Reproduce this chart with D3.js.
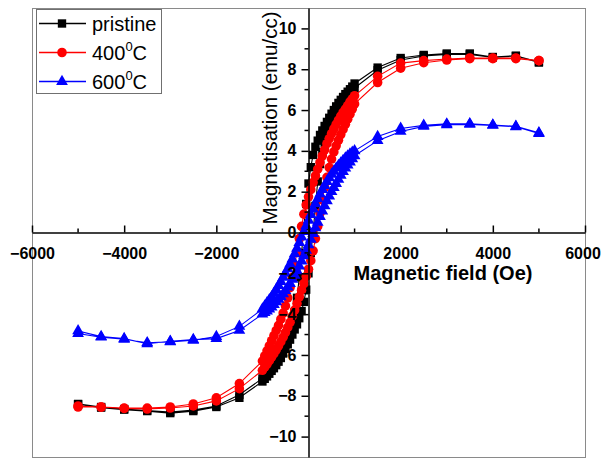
<!DOCTYPE html>
<html>
<head>
<meta charset="utf-8">
<script src="https://cdn.jsdelivr.net/npm/d3@7"></script>
<style>
  html, body { margin: 0; padding: 0; background: #fff; }
  svg { display: block; }
  text { font-family: "Liberation Sans", Arial, sans-serif; }
</style>
</head>
<body>
<svg id="chart" width="601" height="458"></svg>
<script>
// Applied field (Oe): sweep down from +5 kOe, then back up from -5 kOe
const fieldDown = [5000, 4500, 4000, 3500, 3000, 2500, 2000, 1500,
  1000, 950, 900, 850, 800, 750, 700, 650, 600, 550, 500, 450, 400, 350, 300, 250, 200, 150, 100, 50, 0,
  -50, -100, -150, -200, -250, -300, -350, -400, -450, -500, -550, -600, -650, -700, -750, -800, -850, -900, -950, -1000,
  -1500, -2000, -2500, -3000, -3500, -4000, -4500, -5000];
const fieldUp = [-5000, -4500, -4000, -3500, -3000, -2500, -2000, -1500,
  -1000, -950, -900, -850, -800, -750, -700, -650, -600, -550, -500, -450, -400, -350, -300, -250, -200, -150, -100, -50, 0,
  50, 100, 150, 200, 250, 300, 350, 400, 450, 500, 550, 600, 650, 700, 750, 800, 850, 900, 950, 1000,
  1500, 2000, 2500, 3000, 3500, 4000, 4500, 5000];

// Magnetisation (emu/cc) for each sample, descending and ascending branches
const pristineDown = [8.35, 8.66, 8.6, 8.77, 8.77, 8.7, 8.55, 8.08,
  7.3, 7.15, 7.02, 6.9, 6.78, 6.64, 6.5, 6.35, 6.18, 6.0, 5.82, 5.62, 5.42, 5.22, 5.0, 4.78, 4.5, 4.2, 3.8, 3.2, 2.4,
  1.4, 0.3, -1.0, -2.2, -3.2, -3.9, -4.4, -4.8, -5.1, -5.4, -5.65, -5.9, -6.1, -6.3, -6.48, -6.65, -6.78, -6.9, -7.03, -7.15,
  -7.95, -8.5, -8.7, -8.8, -8.72, -8.65, -8.55, -8.4];
const pristineUp = [-8.42, -8.58, -8.68, -8.75, -8.85, -8.75, -8.55, -8.1,
  -7.3, -7.17, -7.05, -6.92, -6.78, -6.65, -6.5, -6.33, -6.15, -5.93, -5.7, -5.48, -5.25, -5.0, -4.75, -4.5, -4.2, -3.85, -3.4, -2.8, -2.0,
  -1.0, 0.0, 1.3, 2.5, 3.35, 3.95, 4.4, 4.8, 5.12, 5.4, 5.63, 5.85, 6.05, 6.25, 6.4, 6.55, 6.7, 6.82, 6.95, 7.08,
  7.95, 8.45, 8.65, 8.72, 8.72, 8.58, 8.65, 8.33];

const c400Down = [8.42, 8.55, 8.55, 8.55, 8.5, 8.42, 8.3, 7.65,
  6.7, 6.55, 6.4, 6.22, 6.05, 5.88, 5.7, 5.5, 5.3, 5.08, 4.85, 4.6, 4.35, 4.05, 3.75, 3.43, 3.1, 2.78, 2.45, 2.1, 1.75,
  1.35, 0.9, 0.3, -0.3, -0.95, -1.6, -2.2, -2.7, -3.2, -3.6, -3.95, -4.25, -4.55, -4.8, -5.05, -5.3, -5.55, -5.8, -6.05, -6.3,
  -7.4, -8.1, -8.4, -8.55, -8.6, -8.6, -8.55, -8.5];
const c400Up = [-8.55, -8.55, -8.62, -8.65, -8.6, -8.5, -8.25, -7.65,
  -6.75, -6.6, -6.45, -6.28, -6.1, -5.93, -5.75, -5.55, -5.35, -5.13, -4.9, -4.65, -4.4, -4.1, -3.8, -3.48, -3.15, -2.83, -2.5, -2.15, -1.8,
  -1.38, -0.9, -0.3, 0.3, 0.95, 1.6, 2.2, 2.7, 3.18, 3.6, 3.95, 4.25, 4.52, 4.8, 5.05, 5.3, 5.55, 5.8, 6.05, 6.3,
  7.35, 8.05, 8.32, 8.45, 8.52, 8.52, 8.52, 8.42];

const c600Down = [4.88, 5.2, 5.27, 5.33, 5.32, 5.25, 5.1, 4.7,
  4.0, 3.93, 3.85, 3.75, 3.65, 3.53, 3.4, 3.28, 3.15, 3.0, 2.85, 2.68, 2.5, 2.3, 2.1, 1.88, 1.65, 1.4, 1.15, 0.88, 0.6,
  0.33, 0.05, -0.23, -0.5, -0.78, -1.05, -1.3, -1.55, -1.78, -2.0, -2.2, -2.4, -2.6, -2.8, -2.98, -3.15, -3.3, -3.45, -3.6, -3.75,
  -4.6, -5.1, -5.28, -5.36, -5.4, -5.23, -5.13, -4.95];
const c600Up = [-4.82, -5.1, -5.2, -5.45, -5.33, -5.25, -5.2, -4.8,
  -4.0, -3.92, -3.85, -3.75, -3.65, -3.53, -3.4, -3.28, -3.15, -3.0, -2.85, -2.68, -2.5, -2.3, -2.1, -1.88, -1.65, -1.4, -1.15, -0.88, -0.6,
  -0.33, -0.05, 0.23, 0.5, 0.78, 1.05, 1.3, 1.55, 1.78, 2.0, 2.2, 2.4, 2.6, 2.8, 2.98, 3.15, 3.3, 3.45, 3.61, 3.76,
  4.5, 4.95, 5.2, 5.28, 5.3, 5.25, 5.18, 4.85];

const xMajorTicks = [-6000, -4000, -2000, 0, 2000, 4000, 6000];
const xMinorTicks = [-5000, -3000, -1000, 1000, 3000, 5000];
const yMajorTicks = [-10, -8, -6, -4, -2, 0, 2, 4, 6, 8, 10];
const yMinorTicks = [-9, -7, -5, -3, -1, 1, 3, 5, 7, 9];

const seriesNames = ["pristine", "400", "600"];
const seriesColors = ["#000000", "#ff0000", "#0000ff"];
const seriesSymbols = [d3.symbolSquare, d3.symbolCircle, d3.symbolTriangle];
const seriesSymbolSizes = [70, 72, 60];

const loops = [
  { down: pristineDown, up: pristineUp },
  { down: c400Down, up: c400Up },
  { down: c600Down, up: c600Up }
];

const svg = d3.select("#chart");
svg.append("rect").attr("width", 601).attr("height", 458).attr("fill", "#fff");

const x = d3.scaleLinear().domain([-6000, 6000]).range([32, 585]);
const y = d3.scaleLinear().domain([-11, 11]).range([457, 8]);

// outer frame
svg.append("rect")
  .attr("x", x(-6000) + 0.5).attr("y", y(11) + 0.5)
  .attr("width", x(6000) - x(-6000)).attr("height", y(-11) - y(11))
  .attr("fill", "none").attr("stroke", "#8a8a8a").attr("stroke-width", 1);

// data loops: descending branch followed by ascending branch
const line = d3.line().x(d => x(d[0])).y(d => y(d[1]));
loops.forEach((lp, i) => {
  const pts = fieldDown.map((f, k) => [f, lp.down[k]])
    .concat(fieldUp.map((f, k) => [f, lp.up[k]]));
  const g = svg.append("g");
  g.append("path").datum(pts)
    .attr("d", line).attr("fill", "none")
    .attr("stroke", seriesColors[i]).attr("stroke-width", 1.1);
  const sym = d3.symbol().type(seriesSymbols[i]).size(seriesSymbolSizes[i]);
  g.selectAll("path.m").data(pts).join("path")
    .attr("class", "m")
    .attr("transform", d => `translate(${x(d[0])},${y(d[1])})`)
    .attr("d", sym)
    .attr("fill", seriesColors[i]);
});

const tickFont = '"Liberation Sans", Arial, sans-serif';

// x axis through the origin
const xAxis = d3.axisBottom(x)
  .tickValues(xMajorTicks)
  .tickSizeInner(-7).tickSizeOuter(0).tickPadding(15)
  .tickFormat(d => d === 0 ? "" : d3.format("d")(d));
const gx = svg.append("g").attr("transform", `translate(0,${y(0)})`).call(xAxis);
gx.selectAll("text").attr("font-size", 16).attr("font-weight", "bold").attr("fill", "#000")
  .style("font-family", tickFont)
  .attr("dx", d => d === 6000 ? -2.5 : 0);
gx.selectAll("line").attr("stroke", "#000").attr("stroke-width", 1.5);
gx.select(".domain").attr("stroke", "#000").attr("stroke-width", 1.5);
gx.selectAll("line.minor").data(xMinorTicks).join("line")
  .attr("class", "minor")
  .attr("x1", d => x(d)).attr("x2", d => x(d))
  .attr("y1", 0).attr("y2", -4)
  .attr("stroke", "#000").attr("stroke-width", 1.5);

// y axis through the origin
const yAxis = d3.axisLeft(y)
  .tickValues(yMajorTicks)
  .tickSizeInner(7).tickSizeOuter(0).tickPadding(5)
  .tickFormat(d3.format("d"));
const gy = svg.append("g").attr("transform", `translate(${x(0)},0)`).call(yAxis);
gy.selectAll("text").attr("font-size", 16).attr("font-weight", "bold").attr("fill", "#000")
  .style("font-family", tickFont);
gy.selectAll("line").attr("stroke", "#000").attr("stroke-width", 1.5);
gy.select(".domain").attr("stroke", "#000").attr("stroke-width", 1.5);
gy.selectAll("line.minor").data(yMinorTicks).join("line")
  .attr("class", "minor")
  .attr("y1", d => y(d)).attr("y2", d => y(d))
  .attr("x1", 0).attr("x2", -4)
  .attr("stroke", "#000").attr("stroke-width", 1.5);

// axis titles
svg.append("text")
  .attr("x", 443).attr("y", 280)
  .attr("text-anchor", "middle")
  .attr("font-size", 20).attr("font-weight", "bold")
  .text("Magnetic field (Oe)");
svg.append("text")
  .attr("transform", "translate(277,118) rotate(-90)")
  .attr("text-anchor", "middle")
  .attr("font-size", 20.5)
  .text("Magnetisation (emu/cc)");

// legend
const lg = svg.append("g");
lg.append("rect")
  .attr("x", 36.5).attr("y", 9.5).attr("width", 125).attr("height", 84)
  .attr("fill", "#fff").attr("stroke", "#707070").attr("stroke-width", 1);
seriesNames.forEach((name, i) => {
  const cy = 23.5 + i * 29;
  lg.append("line").attr("x1", 39).attr("x2", 86).attr("y1", cy).attr("y2", cy)
    .attr("stroke", seriesColors[i]).attr("stroke-width", 1.3);
  lg.append("path")
    .attr("transform", `translate(62,${cy})`)
    .attr("d", d3.symbol().type(seriesSymbols[i]).size(seriesSymbolSizes[i])())
    .attr("fill", seriesColors[i]);
  const t = lg.append("text").attr("x", 92).attr("y", cy + 7.5).attr("font-size", 20);
  if (i === 0) {
    t.text(name);
  } else {
    t.append("tspan").text(name);
    t.append("tspan").attr("font-size", 13).attr("dy", -9).text("0");
    t.append("tspan").attr("dy", 9).text("C");
  }
});
</script>
</body>
</html>
